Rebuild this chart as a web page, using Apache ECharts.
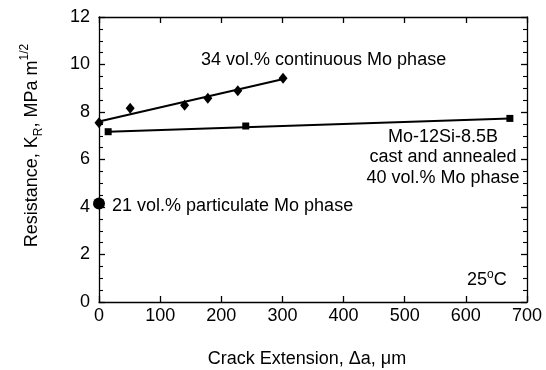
<!DOCTYPE html>
<html>
<head>
<meta charset="utf-8">
<script src="https://cdn.jsdelivr.net/npm/echarts@6/dist/echarts.min.js"></script>
<style>
html,body{margin:0;padding:0;background:#fff;}
#chart{width:546px;height:370px;}
</style>
</head>
<body>
<div id="chart"></div>
<script>
// ---- data ----
var contX = [0, 51, 140, 178, 227, 301];
var contY = [7.55, 8.16, 8.28, 8.58, 8.9, 9.42];
var contFitX = [0, 300];
var contFitY = [7.6, 9.38];
var castX = [15, 240, 672];
var castY = [7.17, 7.41, 7.73];
var castFitX = [15, 672];
var castFitY = [7.17, 7.73];
var partX = [0];
var partY = [4.15];
var xTicks = [0, 100, 200, 300, 400, 500, 600, 700];
var yTicks = [0, 2, 4, 6, 8, 10, 12];

function zip(a, b) { return a.map(function (v, i) { return [v, b[i]]; }); }

var FONT = 'Liberation Sans';
var axisCol = '#000';
var chart = echarts.init(document.getElementById('chart'), null, {renderer: 'canvas'});

var baseX = {
  type: 'value', min: xTicks[0], max: xTicks[xTicks.length - 1], interval: 100,
  axisLine: {show: true, onZero: false, lineStyle: {color: axisCol, width: 1.3}},
  axisTick: {show: true, inside: true, length: 6, lineStyle: {color: axisCol, width: 1.3}},
  splitLine: {show: false}
};
var baseY = {
  type: 'value', min: yTicks[0], max: yTicks[yTicks.length - 1], interval: 2,
  axisLine: {show: true, onZero: false, lineStyle: {color: axisCol, width: 1.3}},
  axisTick: {show: true, inside: true, length: 6, lineStyle: {color: axisCol, width: 1.3}},
  minorTick: {show: true, splitNumber: 4, length: 4, lineStyle: {color: axisCol, width: 1.1}},
  splitLine: {show: false}, minorSplitLine: {show: false}
};

var option = {
  backgroundColor: '#fff',
  animation: false,
  grid: {left: 99, right: 19, top: 17, bottom: 68, containLabel: false, outerBoundsMode: 'none'},
  xAxis: [
    Object.assign({}, baseX, {
      position: 'bottom',
      axisLabel: {fontSize: 18, color: '#000', fontFamily: FONT, margin: 5},
      name: 'Crack Extension, \u0394a, \u03bcm', nameLocation: 'middle', nameGap: 48,
      nameTextStyle: {fontSize: 18, color: '#000', fontFamily: FONT, padding: [0, 12, 0, 0]}
    }),
    Object.assign({}, baseX, {position: 'top', axisLabel: {show: false}})
  ],
  yAxis: [
    Object.assign({}, baseY, {
      position: 'left',
      axisLabel: {fontSize: 18, color: '#000', fontFamily: FONT, margin: 9},
      name: 'Resistance, K{sub|R}, MPa m{sup|1/2}', nameLocation: 'middle', nameGap: 54,
      nameTextStyle: {
        fontSize: 18, color: '#000', fontFamily: FONT, lineHeight: 26, padding: [0, 0, 0, 28],
        rich: {
          sub: {fontSize: 12, fontFamily: FONT, color: '#000', verticalAlign: 'bottom', lineHeight: 26},
          sup: {fontSize: 12, fontFamily: FONT, color: '#000', verticalAlign: 'top', lineHeight: 26}
        }
      }
    }),
    Object.assign({}, baseY, {position: 'right', axisLabel: {show: false}})
  ],
  series: [
    {type: 'line', data: zip(contFitX, contFitY), showSymbol: false, symbol: 'none',
     lineStyle: {color: '#000', width: 2}, z: 3, clip: false, silent: true},
    {type: 'line', data: zip(castFitX, castFitY), showSymbol: false, symbol: 'none',
     lineStyle: {color: '#000', width: 2}, z: 3, clip: false, silent: true},
    {type: 'scatter', data: zip(contX, contY), symbol: 'diamond', symbolSize: [9, 11],
     itemStyle: {color: '#000', opacity: 1}, z: 4, clip: false},
    {type: 'scatter', data: zip(castX, castY), symbol: 'rect', symbolSize: 7,
     itemStyle: {color: '#000', opacity: 1}, z: 4, clip: false},
    {type: 'scatter', data: zip(partX, partY), symbol: 'circle', symbolSize: 12,
     itemStyle: {color: '#000', opacity: 1}, z: 4, clip: false}
  ],
  graphic: [
    {type: 'text', x: 201, y: 60, style: {text: '34 vol.% continuous Mo phase', fill: '#000',
      font: '18px "Liberation Sans"', align: 'left', verticalAlign: 'middle'}},
    {type: 'text', x: 443, y: 126.5, style: {text: 'Mo-12Si-8.5B\ncast and annealed\n40 vol.% Mo phase', fill: '#000',
      font: '18px "Liberation Sans"', align: 'center', verticalAlign: 'top', lineHeight: 20.5}},
    {type: 'text', x: 112, y: 206, style: {text: '21 vol.% particulate Mo phase', fill: '#000',
      font: '18px "Liberation Sans"', align: 'left', verticalAlign: 'middle'}},
    {type: 'text', x: 467, y: 280, style: {text: '25{sup|o}C', fill: '#000',
      font: '18px "Liberation Sans"', align: 'left', verticalAlign: 'middle', lineHeight: 22,
      rich: {sup: {fontSize: 12, fontFamily: FONT, fill: '#000', verticalAlign: 'top', lineHeight: 22}}}}
  ]
};
chart.setOption(option);
</script>
</body>
</html>
